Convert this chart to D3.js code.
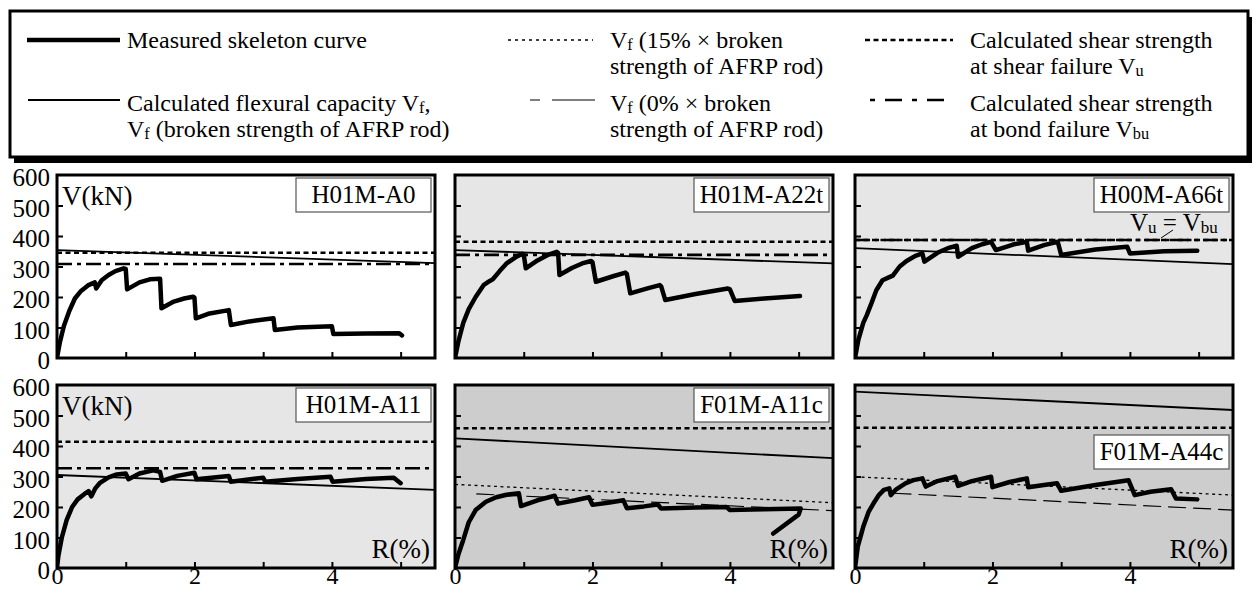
<!DOCTYPE html>
<html>
<head>
<meta charset="utf-8">
<script src="https://cdn.jsdelivr.net/npm/d3@7"></script>
<style>
  body { margin: 0; background: #fff; }
  svg { display: block; }
</style>
</head>
<body>
<div id="container"></div>
<script>
// ---- data ----
var panelNames = ["H01M-A0", "H01M-A22t", "H00M-A66t", "H01M-A11", "F01M-A11c", "F01M-A44c"];

var xTicks = [1, 2, 3, 4, 5];
var xTickLabels = [0, 2, 4];
var yTicks = [100, 200, 300, 400, 500];
var yTickLabels = [0, 100, 200, 300, 400, 500, 600];

// measured skeleton curves [R(%), V(kN)]
var skelA0 = [[0,0],[0.04,50],[0.1,105],[0.18,155],[0.26,195],[0.35,220],[0.45,238],[0.55,248],[0.57,228],
  [0.65,255],[0.75,272],[0.85,285],[0.97,294],[1.0,292],[1.02,225],[1.2,248],[1.35,258],[1.5,260],[1.52,163],
  [1.7,185],[1.85,195],[1.98,201],[2.0,198],[2.02,130],[2.2,145],[2.5,157],[2.53,108],[2.8,120],[3.15,130],
  [3.17,92],[3.5,100],[4.0,104],[4.02,79],[4.5,80],[4.98,81],[5.02,74]];
var skelA22t = [[0,0],[0.05,55],[0.12,115],[0.2,160],[0.3,200],[0.42,240],[0.5,252],[0.55,258],[0.65,285],
  [0.75,310],[0.88,330],[0.98,342],[1.0,340],[1.03,294],[1.2,320],[1.35,338],[1.48,348],[1.5,345],[1.52,272],
  [1.7,295],[1.85,310],[1.98,318],[2.0,314],[2.05,250],[2.3,268],[2.48,280],[2.5,276],[2.55,212],[2.8,228],
  [2.98,239],[3.0,235],[3.06,190],[3.5,210],[3.97,228],[4.0,225],[4.07,187],[4.5,195],[5.02,203]];
var skelA66t = [[0,0],[0.05,60],[0.12,115],[0.17,140],[0.24,180],[0.31,222],[0.4,255],[0.5,265],[0.55,270],
  [0.65,300],[0.75,318],[0.88,335],[0.98,343],[1.01,316],[1.2,345],[1.35,360],[1.48,368],[1.5,332],[1.7,360],
  [1.85,373],[1.98,381],[2.05,354],[2.3,372],[2.5,381],[2.52,352],[2.75,370],[2.95,381],[3.0,338],[3.5,356],
  [3.96,365],[4.0,343],[4.5,350],[4.98,352]];
var skelA11 = [[0,0],[0.02,40],[0.07,100],[0.14,157],[0.22,200],[0.3,225],[0.4,243],[0.46,252],[0.5,235],
  [0.56,262],[0.62,278],[0.75,297],[0.87,307],[1.0,310],[1.04,291],[1.2,310],[1.4,320],[1.5,315],[1.53,286],
  [1.75,302],[2.0,312],[2.03,291],[2.5,302],[2.53,283],[3.0,296],[3.03,283],[3.5,292],[3.98,299],[4.01,283],
  [4.5,292],[4.9,296],[5.0,278]];
var skelA11c = [[0,0],[0.05,45],[0.12,92],[0.2,150],[0.3,190],[0.45,217],[0.6,232],[0.75,240],[0.93,245],
  [0.96,203],[1.2,222],[1.45,237],[1.5,211],[1.75,222],[1.95,232],[2.0,207],[2.25,215],[2.45,222],[2.5,196],
  [2.75,202],[2.95,208],[3.0,195],[3.5,198],[3.95,200],[4.0,190],[4.5,193],[5.03,195],[5.0,175],[4.63,113]];
var skelA44c = [[0,0],[0.04,70],[0.12,135],[0.2,185],[0.27,212],[0.35,240],[0.42,256],[0.5,261],[0.52,239],
  [0.6,258],[0.74,278],[0.85,288],[0.98,294],[1.03,267],[1.2,285],[1.46,299],[1.5,269],[1.7,285],[1.98,299],
  [2.0,265],[2.25,282],[2.5,294],[2.52,265],[2.75,272],[2.94,278],[3.0,253],[3.5,272],[3.98,288],[4.07,239],
  [4.3,250],[4.6,258],[4.67,228],[4.98,225]];
var skeletons = [skelA0, skelA22t, skelA66t, skelA11, skelA11c, skelA44c];

// calculated flexural capacity Vf, value at R=0 and R=5.5
var flexStart = [354, 354, 360, 305, 425, 578];
var flexEnd   = [311, 310, 308, 256, 360, 518];
// calculated shear strength at shear failure Vu
var shearVu = [345, 381, 387, 414, 458, 460];
// calculated shear strength at bond failure Vbu (null = not drawn)
var bondVbu = [308, 338, 387, 327, null, null];
// Vf with 15% / 0% of broken strength [R start, V start, V end]
var vf15 = [null, null, null, null, [0, 274, 214], [0, 299, 239]];
var vf0  = [null, null, null, null, [0.31, 243, 188], [0.56, 245, 190]];

// ---- layout ----
var W = 1254, H = 589;
var serif = '"Liberation Serif", "Times New Roman", serif';
var colX = [57, 455, 855], rowY = [175, 385];
var pw = 378, ph = 183;
var shade = ["#ffffff", "#e6e6e6", "#e6e6e6", "#e6e6e6", "#cdcdcd", "#cdcdcd"];
var nameBoxDy = [3, 3, 3, 3, 3, 50];
var xLabelBase = 584;

var svg = d3.select('#container').append('svg')
  .attr('width', W).attr('height', H)
  .attr('font-family', serif);

var styles = {
  skel:  { w: 4.5, dash: null },
  flex:  { w: 1.8, dash: null },
  vu:    { w: 2.6, dash: "5,3.5" },
  vbu:   { w: 2.6, dash: "15,5,4,5" },
  vf15:  { w: 1.3, dash: "3,3.5" },
  vf0:   { w: 1.2, dash: "18,7" }
};

// ---- legend ----
var lg = svg.append('g');
lg.append('rect').attr('x', 14).attr('y', 17).attr('width', 1238).attr('height', 146).attr('fill', '#000');
lg.append('rect').attr('x', 10).attr('y', 11).attr('width', 1238).attr('height', 146)
  .attr('fill', '#fff').attr('stroke', '#000').attr('stroke-width', 3);

function sample(x1, x2, yy, st, dash) {
  lg.append('line').attr('x1', x1).attr('x2', x2).attr('y1', yy).attr('y2', yy)
    .attr('stroke', '#000').attr('stroke-width', st.w)
    .attr('stroke-dasharray', dash || st.dash);
}
// text with subscript parts: array of [string, isSub, dy]
function rich(parent, x, y, parts, size, anchor) {
  var t = parent.append('text').attr('x', x).attr('y', y)
    .attr('font-family', serif)
    .attr('font-size', size).attr('text-anchor', anchor || 'start');
  parts.forEach(function(p) {
    if (p[1]) t.append('tspan').attr('font-size', size * 0.68).attr('dy', 2).text(p[0]);
    else t.append('tspan').attr('dy', p[2] || 0).text(p[0]);
  });
  return t;
}

var fs = 24;
sample(27, 120, 40, styles.skel);
rich(lg, 127, 48, [["Measured skeleton curve"]], fs);
sample(28, 120, 100, styles.flex);
rich(lg, 127, 111, [["Calculated flexural capacity V"], ["f", 1], [",", 0, -2]], fs);
rich(lg, 127, 137, [["V"], ["f", 1], [" (broken strength of AFRP rod)", 0, -2]], fs);

sample(508, 593, 40, styles.vf15, "3,4");
rich(lg, 610, 48, [["V"], ["f", 1], ["  (15% \u00d7 broken", 0, -2]], fs);
rich(lg, 610, 74, [["strength of AFRP rod)"]], fs);
sample(530, 595, 100, styles.vf0, "10,12,45");
rich(lg, 610, 111, [["V"], ["f", 1], ["  (0% \u00d7 broken", 0, -2]], fs);
rich(lg, 610, 137, [["strength of AFRP rod)"]], fs);

sample(865, 953, 40, styles.vu);
rich(lg, 970, 48, [["Calculated shear strength"]], fs);
rich(lg, 970, 74, [["at shear failure V"], ["u", 1]], fs);
sample(870, 945, 100, styles.vbu, "5,10,17,10");
rich(lg, 970, 111, [["Calculated shear strength"]], fs);
rich(lg, 970, 137, [["at bond failure V"], ["bu", 1]], fs);

// ---- panels ----
var defs = svg.append('defs');

panelNames.forEach(function(name, i) {
  var col = i % 3, row = Math.floor(i / 3);
  var x0 = colX[col], y0 = rowY[row];
  var x = d3.scaleLinear().domain([0, 5.5]).range([x0, x0 + pw]);
  var y = d3.scaleLinear().domain([0, 600]).range([y0 + ph, y0]);
  var g = svg.append('g');

  defs.append('clipPath').attr('id', 'clip' + i)
    .append('rect').attr('x', x0).attr('y', y0).attr('width', pw).attr('height', ph);

  g.append('rect').attr('x', x0).attr('y', y0).attr('width', pw).attr('height', ph)
    .attr('fill', shade[i]);

  var lines = g.append('g').attr('clip-path', 'url(#clip' + i + ')');
  function seg(pts, st) {
    lines.append('path')
      .attr('d', d3.line().x(function(d) { return x(d[0]); }).y(function(d) { return y(d[1]); })(pts))
      .attr('fill', 'none').attr('stroke', '#000').attr('stroke-width', st.w)
      .attr('stroke-dasharray', st.dash)
      .attr('stroke-linejoin', 'round').attr('stroke-linecap', st.dash ? 'butt' : 'round');
  }

  seg([[0, shearVu[i]], [5.5, shearVu[i]]], styles.vu);
  if (bondVbu[i] != null) seg([[0, bondVbu[i]], [5.5, bondVbu[i]]], styles.vbu);
  seg([[0, flexStart[i]], [5.5, flexEnd[i]]], styles.flex);
  if (vf15[i]) seg([[vf15[i][0], vf15[i][1]], [5.5, vf15[i][2]]], styles.vf15);
  if (vf0[i]) seg([[vf0[i][0], vf0[i][1]], [5.5, vf0[i][2]]], styles.vf0);
  seg(skeletons[i], styles.skel);

  // inward tick marks
  g.append('g').attr('transform', 'translate(0,' + (y0 + ph) + ')')
    .call(d3.axisBottom(x).tickValues(xTicks).tickSizeInner(-6).tickSizeOuter(0).tickFormat(''))
    .call(function(a) { a.select('.domain').remove(); a.selectAll('line').attr('stroke-width', 2); });
  g.append('g').attr('transform', 'translate(' + x0 + ',0)')
    .call(d3.axisLeft(y).tickValues(yTicks).tickSizeInner(-6).tickSizeOuter(0).tickFormat(''))
    .call(function(a) { a.select('.domain').remove(); a.selectAll('line').attr('stroke-width', 2); });

  // frame
  g.append('rect').attr('x', x0).attr('y', y0).attr('width', pw).attr('height', ph)
    .attr('fill', 'none').attr('stroke', '#000').attr('stroke-width', 3);

  // tick labels
  if (col === 0) {
    g.append('g').attr('transform', 'translate(' + x0 + ',0)')
      .call(d3.axisLeft(y).tickValues(yTickLabels).tickSize(0).tickPadding(7).tickFormat(d3.format('d')))
      .call(function(a) {
        a.attr('font-family', serif).attr('font-size', 25);
        a.select('.domain').remove();
        a.selectAll('text').attr('font-family', serif).attr('font-size', 25)
          .attr('fill', '#000').attr('dy', '0.42em');
      });
  }
  if (row === 1) {
    g.append('g').attr('transform', 'translate(0,' + (y0 + ph) + ')')
      .call(d3.axisBottom(x).tickValues(xTickLabels).tickSize(0).tickFormat(d3.format('d')))
      .call(function(a) {
        a.attr('font-family', serif).attr('font-size', 24);
        a.select('.domain').remove();
        a.selectAll('text').attr('font-family', serif).attr('font-size', 24).attr('fill', '#000')
          .attr('dy', null).attr('y', xLabelBase - (y0 + ph));
      });
  }

  // specimen name box
  var bw = 135, bh = 34, bx = x0 + pw - 4 - bw, by = y0 + nameBoxDy[i];
  g.append('rect').attr('x', bx).attr('y', by).attr('width', bw).attr('height', bh)
    .attr('fill', '#fff').attr('stroke', '#555').attr('stroke-width', 1.2);
  g.append('text').attr('x', bx + bw / 2).attr('y', by + bh / 2 + 8)
    .attr('text-anchor', 'middle').attr('font-size', 25).text(name);

  if (col === 0) {
    g.append('text').attr('x', x0 + 5).attr('y', y0 + 30).attr('font-size', 27).text('V(kN)');
  }
  if (row === 1) {
    g.append('text').attr('x', x0 + pw - 5).attr('y', y0 + ph - 10)
      .attr('text-anchor', 'end').attr('font-size', 27).text('R(%)');
  }
  if (i === 2) {
    rich(g, x0 + 275, y0 + 56, [["V"], ["u", 1], [" = V", 0, -2], ["bu", 1]], 25);
    g.append('line').attr('x1', x0 + 318).attr('y1', y0 + 55).attr('x2', x0 + 306).attr('y2', y0 + 63)
      .attr('stroke', '#000').attr('stroke-width', 1);
  }
});
</script>
</body>
</html>
